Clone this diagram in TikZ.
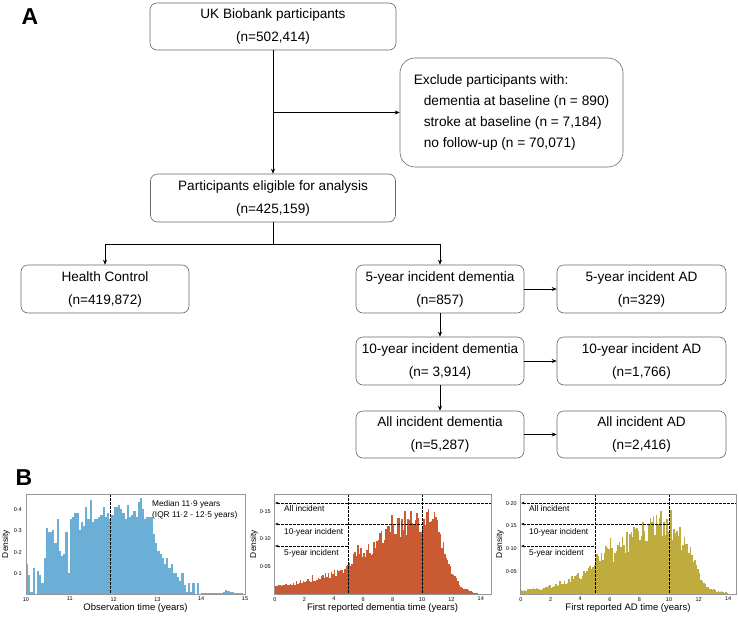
\documentclass[tikz,border=0pt]{standalone}
\usepackage{fontspec}
\setmainfont{Liberation Sans}
\usetikzlibrary{arrows.meta}
\definecolor{hblue}{RGB}{107,174,214}
\definecolor{hred}{RGB}{201,90,50}
\definecolor{hgold}{RGB}{191,172,62}
\definecolor{boxgrey}{RGB}{105,105,105}
\definecolor{axgrey}{RGB}{150,150,150}
\begin{document}
\begin{tikzpicture}[x=1pt,y=-1pt,
  box/.style={draw=boxgrey,line width=0.6pt,rounded corners=7pt,inner sep=0pt,align=center,
    font=\fontsize{13.6}{23}\selectfont,minimum height=48pt},
  conn/.style={-{Stealth[length=5pt,width=4pt]},line width=0.6pt},
  panel/.style={font=\fontsize{23}{23}\selectfont\bfseries},
  hdash/.style={line width=0.7pt,dash pattern=on 2.5pt off 1.5pt},
  tick/.style={font=\fontsize{5.5}{6}\selectfont,inner sep=0pt},
  axtitle/.style={font=\fontsize{9.5}{10}\selectfont,inner sep=0pt},
  dens/.style={font=\fontsize{8.4}{9}\selectfont,inner sep=0pt,rotate=90},
  lab/.style={font=\fontsize{8.3}{9}\selectfont,inner sep=0pt,anchor=west},
  leftarr/.style={{Stealth[length=3.5pt,width=2.6pt]}-}]
\useasboundingbox (0,0) rectangle (739,618);

% ---------- Panel A ----------
\node[panel] (labA) at (30,17) {A};
\node[box,minimum width=246pt,minimum height=47pt] (ukb) at (273,26.5) {UK Biobank participants\\(n=502,414)};
\node[box,rounded corners=15pt,minimum width=223pt,minimum height=109pt,align=left,
  font=\fontsize{13.7}{21}\selectfont] (excl) at (511.5,112.5)
  {Exclude participants with:\\\hspace*{10pt}dementia at baseline (n = 890)\\\hspace*{10pt}stroke at baseline (n = 7,184)\\\hspace*{10pt}no follow-up (n = 70,071)};
\node[box,minimum width=245pt] (part) at (273,198) {Participants eligible for analysis\\(n=425,159)};
\node[box,minimum width=168pt] (hc) at (105,289) {Health Control\\(n=419,872)};
\node[box,minimum width=168pt] (d5) at (440,289) {5-year incident dementia\\(n=857)};
\node[box,minimum width=168pt] (d10) at (440,361) {10-year incident dementia\\(n= 3,914)};
\node[box,minimum width=168pt,minimum height=47pt] (dall) at (440,434.5) {All incident dementia\\(n=5,287)};
\node[box,minimum width=169pt] (a5) at (641.5,289) {5-year incident AD\\(n=329)};
\node[box,minimum width=169pt] (a10) at (641.5,361) {10-year incident AD\\(n=1,766)};
\node[box,minimum width=169pt,minimum height=47pt] (aall) at (641.5,434.5) {All incident AD\\(n=2,416)};

\coordinate (br) at (ukb.south |- excl.west);
\coordinate (split) at (273,244);
\draw[conn] (ukb.south) -- (part.north);
\draw[conn] (br) -- (excl.west);
\draw[line width=0.6pt] (part.south) -- (split);
\draw[conn] (split) -| (hc.north);
\draw[conn] (split) -| (d5.north);
\draw[conn] (d5) -- (a5);
\draw[conn] (d10) -- (a10);
\draw[conn] (dall) -- (aall);
\draw[conn] (d5) -- (d10);
\draw[conn] (d10) -- (dall);

% ---------- Panel B ----------
\node[panel] (labB) at (24,478) {B};

% Histogram 1: observation time
\foreach \v [count=\i from 0] in {
0.14,0.09,0.01,0.12,0.00,0.11,0.09,0.05,0.17,0.31,
0.29,0.29,0.30,0.24,0.35,0.20,0.18,0.19,0.29,0.10,
0.35,0.36,0.38,0.38,0.30,0.34,0.32,0.41,0.35,0.44,
0.34,0.35,0.35,0.36,0.37,0.41,0.36,0.38,0.35,0.37,
0.41,0.41,0.42,0.40,0.38,0.35,0.42,0.36,0.37,0.39,
0.36,0.43,0.45,0.40,0.35,0.36,0.36,0.36,0.28,0.24,
0.20,0.19,0.17,0.14,0.17,0.12,0.14,0.10,0.10,0.08,
0.06,0.10,0.04,0.01,0.05,0.01,0.05,0.00,0.05,0.00,
0.004,0.004,0.004,0.004,0.004,0.004,0.004,0.004,0.004,0.004,
0.01,0.02,0.015,0.01,0.008,0.004,0.004,0.003,0.003,0.002}{
  \fill[hblue] ({26+\i*2.19},594) rectangle ({26+(\i+1)*2.19},{594-\v*213});
}
\draw[hdash] (110,494) -- (110,594);
\draw[axgrey,line width=0.5pt] (26,494) rectangle (245,594);
\foreach \xv [count=\j from 0] in {10,11,12,13,14,15}{
  \node[tick,anchor=north] at ({26+\j*43.8},597) {\xv};
}
\foreach \yl/\yp in {0·1/573.7,0·2/552.4,0·3/531.1,0·4/509.8}{
  \node[tick,anchor=east] at (22,\yp) {\yl};
}
\node[lab] (med1) at (152,504) {Median 11·9 years};
\node[lab] (med2) at (152,515) {(IQR 11·2 - 12·5 years)};
\node[axtitle] (xt1) at (135.5,608) {Observation time (years)};
\node[dens] (dy1) at (6,544) {Density};

% Histogram 2: dementia
\def\envD{0.017,0.018,0.019,0.021,0.024,0.027,0.030,0.035,0.040,0.044,0.060,0.067,0.077,0.086,0.099,0.114,0.124,0.130,0.136,0.142,0.142,0.136,0.124,0.096,0.046,0.018,0.008,0.003,0.0}
\pgfmathsetseed{4242}
\foreach \i in {0,...,139}{
  \pgfmathsetmacro\tm{\i*0.1+0.05}
  \pgfmathtruncatemacro\kA{floor(\tm/0.5)}
  \pgfmathtruncatemacro\kB{\kA+1}
  \pgfmathsetmacro\fr{\tm/0.5-\kA}
  \pgfmathsetmacro\ea{{\envD}[\kA]}
  \pgfmathsetmacro\eb{{\envD}[\kB]}
  \pgfmathsetmacro\hv{(\ea*(1-\fr)+\eb*\fr)*(0.78+0.3*rnd+0.3*rnd^6)}
  \fill[hred] ({275+\i*1.47},594) rectangle ({275+(\i+1)*1.47},{594-\hv*550});
}
\draw[hdash] (348.5,494) -- (348.5,594);
\draw[hdash] (422,494) -- (422,594);
\draw[hdash,leftarr] (275,503) -- (491,503);
\draw[hdash,leftarr] (275,524) -- (422,524);
\draw[hdash,leftarr] (275,546) -- (348.5,546);
\draw[axgrey,line width=0.5pt] (274,494) rectangle (491,594);
\foreach \xv [count=\j from 0] in {0,2,4,6,8,10,12,14}{
  \node[tick,anchor=north] at ({275+\j*29.4},597) {\xv};
}
\foreach \yl/\yp in {0·05/566.5,0·10/539,0·15/511.5}{
  \node[tick,anchor=east] at (271,\yp) {\yl};
}
\node[lab] (l2a) at (284,509) {All incident};
\node[lab] (l2b) at (284,532) {10-year incident};
\node[lab] (l2c) at (284,553) {5-year incident};
\node[axtitle] (xt2) at (382.5,608) {First reported dementia time (years)};
\node[dens] (dy2) at (254,544) {Density};

% Histogram 3: AD
\def\envA{0.008,0.010,0.011,0.013,0.017,0.022,0.028,0.035,0.043,0.048,0.078,0.083,0.090,0.098,0.112,0.127,0.146,0.153,0.157,0.160,0.146,0.135,0.127,0.105,0.046,0.017,0.008,0.006,0.002}
\pgfmathsetseed{777}
\foreach \i in {0,...,139}{
  \pgfmathsetmacro\tm{\i*0.1+0.05}
  \pgfmathtruncatemacro\kA{floor(\tm/0.5)}
  \pgfmathtruncatemacro\kB{\kA+1}
  \pgfmathsetmacro\fr{\tm/0.5-\kA}
  \pgfmathsetmacro\ea{{\envA}[\kA]}
  \pgfmathsetmacro\eb{{\envA}[\kB]}
  \pgfmathsetmacro\hv{(\ea*(1-\fr)+\eb*\fr)*(0.74+0.4*rnd+0.35*rnd^6)}
  \fill[hgold] ({521+\i*1.48},594) rectangle ({521+(\i+1)*1.48},{594-\hv*454});
}
\draw[hdash] (595,494) -- (595,594);
\draw[hdash] (669,494) -- (669,594);
\draw[hdash,leftarr] (521,503) -- (736,503);
\draw[hdash,leftarr] (521,524) -- (669,524);
\draw[hdash,leftarr] (521,546) -- (595,546);
\draw[axgrey,line width=0.5pt] (520,494) rectangle (736,594);
\foreach \xv [count=\j from 0] in {0,2,4,6,8,10,12,14}{
  \node[tick,anchor=north] at ({521+\j*29.6},597) {\xv};
}
\foreach \yl/\yp in {0·05/571.3,0·10/548.6,0·15/525.9,0·20/503.2}{
  \node[tick,anchor=east] at (517,\yp) {\yl};
}
\node[lab] (l3a) at (529,509) {All incident};
\node[lab] (l3b) at (529,532) {10-year incident};
\node[lab] (l3c) at (529,553) {5-year incident};
\node[axtitle] (xt3) at (628,608) {First reported AD time (years)};
\node[dens] (dy3) at (500,544) {Density};
\end{tikzpicture}
\end{document}
